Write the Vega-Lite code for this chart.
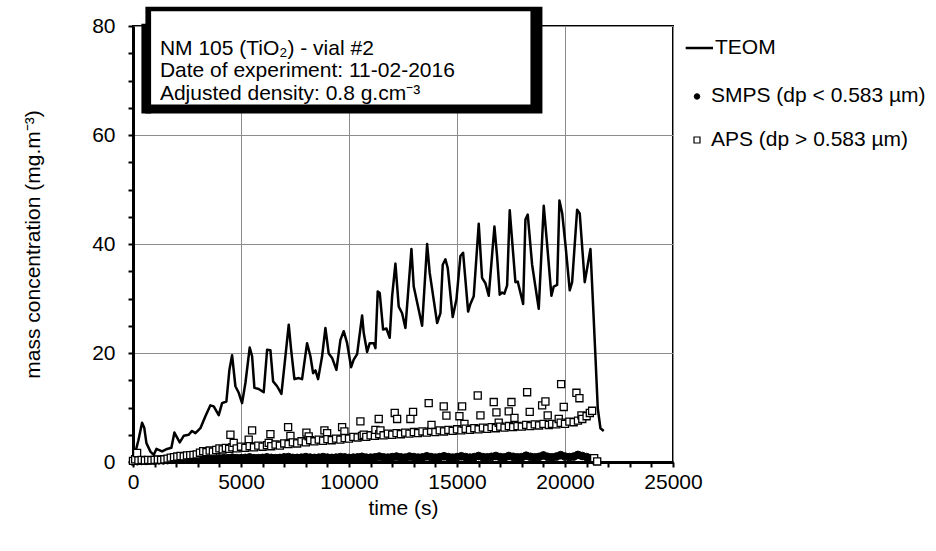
{
  "$schema": "https://vega.github.io/schema/vega-lite/v6.json",
  "autosize": {"type": "none"},
  "padding": {"left": 133, "top": 26, "right": 263, "bottom": 89},
  "width": 540,
  "height": 436,
  "background": "white",
  "config": {
    "view": {"stroke": "black", "strokeWidth": 2},
    "font": "Liberation Sans",
    "axis": {
      "labelFont": "Liberation Sans", "labelFontSize": 21, "labelColor": "black",
      "titleFont": "Liberation Sans", "titleFontSize": 21, "titleFontWeight": "normal", "titleColor": "black",
      "domainColor": "black", "domainWidth": 3, "tickColor": "black", "tickWidth": 2, "tickSize": 5,
      "gridWidth": 1, "labelOverlap": false
    }
  },
  "datasets": {
    "teom": [
      {"t":0,"c":0.1},{"t":250,"c":4.0},{"t":420,"c":7.2},{"t":520,"c":6.3},{"t":620,"c":3.5},{"t":806,"c":1.9},{"t":960,"c":1.3},{"t":1083,"c":2.4},{"t":1347,"c":1.95},{"t":1578,"c":2.4},{"t":1778,"c":2.6},{"t":1917,"c":5.4},{"t":2163,"c":3.6},{"t":2348,"c":4.8},{"t":2580,"c":5.0},{"t":2735,"c":5.7},{"t":2890,"c":5.3},{"t":3120,"c":6.2},{"t":3352,"c":8.4},{"t":3583,"c":10.4},{"t":3737,"c":10.2},{"t":3969,"c":8.6},{"t":4124,"c":10.8},{"t":4324,"c":11.1},{"t":4463,"c":16.9},{"t":4587,"c":19.6},{"t":4741,"c":13.9},{"t":4895,"c":12.7},{"t":5050,"c":10.8},{"t":5204,"c":14.5},{"t":5403,"c":21.0},{"t":5514,"c":19.4},{"t":5621,"c":13.6},{"t":5821,"c":13.4},{"t":6051,"c":12.8},{"t":6209,"c":20.6},{"t":6362,"c":20.5},{"t":6487,"c":14.8},{"t":6672,"c":13.9},{"t":6871,"c":12.5},{"t":7056,"c":19.4},{"t":7210,"c":25.2},{"t":7320,"c":20.6},{"t":7473,"c":15.2},{"t":7673,"c":15.4},{"t":7828,"c":15.2},{"t":8059,"c":21.8},{"t":8214,"c":19.4},{"t":8338,"c":16.3},{"t":8445,"c":16.8},{"t":8570,"c":15.2},{"t":8755,"c":19.4},{"t":8908,"c":24.6},{"t":9061,"c":19.9},{"t":9218,"c":19.1},{"t":9417,"c":16.9},{"t":9603,"c":22.4},{"t":9755,"c":24.0},{"t":9913,"c":21.8},{"t":10098,"c":17.4},{"t":10218,"c":18.8},{"t":10376,"c":19.8},{"t":10607,"c":26.9},{"t":10681,"c":23.7},{"t":10839,"c":20.2},{"t":10959,"c":21.8},{"t":11144,"c":21.8},{"t":11223,"c":20.9},{"t":11330,"c":31.3},{"t":11423,"c":31.0},{"t":11579,"c":24.3},{"t":11732,"c":24.5},{"t":11885,"c":22.8},{"t":11996,"c":30.4},{"t":12149,"c":36.4},{"t":12302,"c":28.5},{"t":12459,"c":27.3},{"t":12612,"c":24.6},{"t":12890,"c":39.1},{"t":12997,"c":32.2},{"t":13385,"c":25.0},{"t":13617,"c":40.0},{"t":13737,"c":34.7},{"t":14080,"c":25.5},{"t":14233,"c":27.3},{"t":14339,"c":36.2},{"t":14464,"c":37.2},{"t":14570,"c":35.6},{"t":14802,"c":26.6},{"t":14973,"c":29.8},{"t":15158,"c":37.8},{"t":15283,"c":38.4},{"t":15515,"c":27.6},{"t":15621,"c":29.0},{"t":15774,"c":30.4},{"t":16006,"c":43.7},{"t":16160,"c":33.8},{"t":16316,"c":32.8},{"t":16469,"c":30.5},{"t":16733,"c":43.2},{"t":16857,"c":37.7},{"t":16978,"c":30.7},{"t":17089,"c":31.1},{"t":17194,"c":30.9},{"t":17320,"c":32.4},{"t":17441,"c":46.2},{"t":17705,"c":33.0},{"t":17812,"c":33.1},{"t":18062,"c":29.0},{"t":18168,"c":44.5},{"t":18275,"c":45.4},{"t":18478,"c":36.2},{"t":18784,"c":28.1},{"t":19016,"c":47.0},{"t":19173,"c":39.9},{"t":19372,"c":30.5},{"t":19478,"c":32.2},{"t":19636,"c":32.5},{"t":19742,"c":48.0},{"t":19868,"c":45.7},{"t":20021,"c":39.9},{"t":20219,"c":31.5},{"t":20330,"c":33.0},{"t":20562,"c":46.3},{"t":20682,"c":45.6},{"t":20914,"c":33.0},{"t":21053,"c":36.2},{"t":21178,"c":39.1},{"t":21303,"c":28.5},{"t":21409,"c":19.4},{"t":21516,"c":9.9},{"t":21641,"c":6.2},{"t":21793,"c":5.7}
    ],
    "smps": [
      {"t":0,"c":0.1},{"t":200,"c":0.15},{"t":400,"c":0.2},{"t":600,"c":0.2},{"t":800,"c":0.25},{"t":1000,"c":0.25},{"t":1200,"c":0.3},{"t":1400,"c":0.3},{"t":1600,"c":0.35},{"t":1800,"c":0.4},{"t":2000,"c":0.45},{"t":2200,"c":0.5},{"t":2400,"c":0.5},{"t":2600,"c":0.55},{"t":2800,"c":0.55},{"t":3000,"c":0.6},{"t":3200,"c":0.6},{"t":3400,"c":0.65},{"t":3600,"c":0.6},{"t":3800,"c":0.65},{"t":4000,"c":0.65},{"t":4200,"c":0.7},{"t":4400,"c":0.7},{"t":4600,"c":0.8},{"t":4800,"c":0.7},{"t":5000,"c":0.7},{"t":5200,"c":0.75},{"t":5400,"c":0.85},{"t":5600,"c":0.7},{"t":5800,"c":0.7},{"t":6000,"c":0.75},{"t":6200,"c":0.85},{"t":6400,"c":0.75},{"t":6600,"c":0.7},{"t":6800,"c":0.75},{"t":7000,"c":0.85},{"t":7200,"c":0.9},{"t":7400,"c":0.75},{"t":7600,"c":0.75},{"t":7800,"c":0.8},{"t":8000,"c":0.9},{"t":8200,"c":0.8},{"t":8400,"c":0.75},{"t":8600,"c":0.8},{"t":8800,"c":0.9},{"t":9000,"c":0.8},{"t":9200,"c":0.75},{"t":9400,"c":0.8},{"t":9600,"c":0.9},{"t":9800,"c":0.85},{"t":10000,"c":0.75},{"t":10200,"c":0.8},{"t":10400,"c":0.85},{"t":10600,"c":0.95},{"t":10800,"c":0.8},{"t":11000,"c":0.8},{"t":11200,"c":0.85},{"t":11400,"c":1.0},{"t":11600,"c":0.85},{"t":11800,"c":0.8},{"t":12000,"c":0.9},{"t":12200,"c":1.0},{"t":12400,"c":0.85},{"t":12600,"c":0.8},{"t":12800,"c":1.0},{"t":13000,"c":0.9},{"t":13200,"c":0.8},{"t":13400,"c":0.85},{"t":13600,"c":1.05},{"t":13800,"c":0.9},{"t":14000,"c":0.8},{"t":14200,"c":0.9},{"t":14400,"c":1.05},{"t":14600,"c":0.9},{"t":14800,"c":0.8},{"t":15000,"c":0.9},{"t":15200,"c":1.05},{"t":15400,"c":0.9},{"t":15600,"c":0.8},{"t":15800,"c":0.9},{"t":16000,"c":1.1},{"t":16200,"c":0.9},{"t":16400,"c":0.85},{"t":16600,"c":0.95},{"t":16800,"c":1.1},{"t":17000,"c":0.9},{"t":17200,"c":0.85},{"t":17400,"c":1.1},{"t":17600,"c":0.95},{"t":17800,"c":0.85},{"t":18000,"c":0.9},{"t":18200,"c":1.15},{"t":18400,"c":0.95},{"t":18600,"c":0.85},{"t":18800,"c":0.95},{"t":19000,"c":1.2},{"t":19200,"c":0.95},{"t":19400,"c":0.85},{"t":19600,"c":1.0},{"t":19800,"c":1.25},{"t":20000,"c":1.0},{"t":20200,"c":0.9},{"t":20400,"c":1.0},{"t":20600,"c":1.3},{"t":20800,"c":1.1},{"t":21000,"c":0.9},{"t":21200,"c":0.7},{"t":21400,"c":0.2}
    ],
    "aps": [
      {"t":0,"c":0.2},{"t":100,"c":0.5},{"t":190,"c":1.65},{"t":250,"c":0.3},{"t":400,"c":0.4},{"t":550,"c":0.3},{"t":700,"c":0.4},{"t":850,"c":0.35},{"t":1000,"c":0.4},{"t":1150,"c":0.45},{"t":1300,"c":0.4},{"t":1450,"c":0.5},{"t":1600,"c":0.6},{"t":1750,"c":0.8},{"t":1900,"c":0.9},{"t":2050,"c":1.0},{"t":2200,"c":1.1},{"t":2350,"c":1.05},{"t":2500,"c":1.2},{"t":2650,"c":1.25},{"t":2800,"c":1.3},{"t":2950,"c":1.4},{"t":3100,"c":1.7},{"t":3250,"c":2.0},{"t":3400,"c":1.8},{"t":3550,"c":2.1},{"t":3700,"c":1.9},{"t":3850,"c":2.2},{"t":4000,"c":2.5},{"t":4150,"c":2.3},{"t":4300,"c":2.6},{"t":4450,"c":2.4},{"t":4510,"c":5.0},{"t":4600,"c":2.7},{"t":4663,"c":3.5},{"t":4800,"c":2.5},{"t":5000,"c":2.8},{"t":5200,"c":2.6},{"t":5357,"c":4.1},{"t":5400,"c":2.9},{"t":5514,"c":5.8},{"t":5600,"c":2.7},{"t":5800,"c":3.0},{"t":6000,"c":2.8},{"t":6200,"c":3.1},{"t":6283,"c":3.5},{"t":6362,"c":5.1},{"t":6400,"c":2.9},{"t":6600,"c":3.2},{"t":6800,"c":3.0},{"t":7000,"c":3.4},{"t":7181,"c":6.4},{"t":7200,"c":3.3},{"t":7288,"c":4.8},{"t":7400,"c":3.6},{"t":7600,"c":3.4},{"t":7800,"c":3.8},{"t":8000,"c":3.6},{"t":8028,"c":5.4},{"t":8135,"c":4.7},{"t":8200,"c":4.0},{"t":8400,"c":3.8},{"t":8600,"c":4.1},{"t":8800,"c":3.9},{"t":8862,"c":5.8},{"t":8987,"c":5.3},{"t":9000,"c":4.2},{"t":9200,"c":4.0},{"t":9400,"c":4.3},{"t":9600,"c":4.1},{"t":9681,"c":6.4},{"t":9788,"c":5.6},{"t":9800,"c":4.4},{"t":10000,"c":4.3},{"t":10200,"c":4.6},{"t":10400,"c":4.5},{"t":10528,"c":7.45},{"t":10600,"c":4.8},{"t":10681,"c":5.0},{"t":10800,"c":4.6},{"t":11000,"c":4.9},{"t":11200,"c":4.8},{"t":11223,"c":5.9},{"t":11376,"c":7.9},{"t":11400,"c":5.1},{"t":11455,"c":5.8},{"t":11600,"c":4.9},{"t":11800,"c":5.2},{"t":12000,"c":5.0},{"t":12117,"c":9.0},{"t":12200,"c":5.3},{"t":12228,"c":7.9},{"t":12400,"c":5.1},{"t":12600,"c":5.4},{"t":12800,"c":5.2},{"t":12843,"c":7.9},{"t":12966,"c":9.2},{"t":13000,"c":5.5},{"t":13200,"c":5.3},{"t":13400,"c":5.6},{"t":13600,"c":5.4},{"t":13690,"c":10.8},{"t":13800,"c":5.7},{"t":13820,"c":6.8},{"t":14000,"c":5.5},{"t":14200,"c":5.8},{"t":14386,"c":10.2},{"t":14400,"c":5.6},{"t":14510,"c":8.5},{"t":14600,"c":5.9},{"t":14800,"c":5.7},{"t":15000,"c":6.0},{"t":15112,"c":8.4},{"t":15200,"c":5.8},{"t":15237,"c":10.2},{"t":15344,"c":7.0},{"t":15400,"c":6.1},{"t":15600,"c":5.9},{"t":15800,"c":6.2},{"t":15960,"c":12.2},{"t":16000,"c":6.0},{"t":16085,"c":8.55},{"t":16200,"c":6.3},{"t":16400,"c":6.1},{"t":16600,"c":6.4},{"t":16701,"c":11.0},{"t":16800,"c":6.2},{"t":16826,"c":9.1},{"t":16932,"c":7.2},{"t":17000,"c":6.5},{"t":17200,"c":6.3},{"t":17395,"c":9.3},{"t":17400,"c":6.6},{"t":17520,"c":11.0},{"t":17600,"c":6.4},{"t":17659,"c":8.1},{"t":17800,"c":6.6},{"t":18000,"c":6.5},{"t":18200,"c":6.8},{"t":18247,"c":12.8},{"t":18367,"c":9.2},{"t":18400,"c":6.6},{"t":18600,"c":6.9},{"t":18800,"c":6.7},{"t":18941,"c":10.4},{"t":19000,"c":7.0},{"t":19094,"c":11.1},{"t":19200,"c":8.55},{"t":19250,"c":6.8},{"t":19400,"c":7.0},{"t":19600,"c":6.9},{"t":19710,"c":7.9},{"t":19800,"c":7.2},{"t":19821,"c":14.3},{"t":19941,"c":10.1},{"t":20000,"c":7.0},{"t":20200,"c":7.4},{"t":20400,"c":7.3},{"t":20529,"c":12.7},{"t":20600,"c":7.6},{"t":20668,"c":11.7},{"t":20761,"c":8.55},{"t":20800,"c":7.9},{"t":21000,"c":8.4},{"t":21150,"c":9.0},{"t":21256,"c":9.4},{"t":21350,"c":0.7},{"t":21490,"c":0.1}
    ]
  },
  "layer": [
    {
      "data": {"name": "teom"},
      "mark": {"type": "line", "color": "black", "strokeWidth": 2.5, "strokeJoin": "round"},
      "encoding": {
        "x": {"field": "t", "type": "quantitative",
          "scale": {"domain": [0, 25000], "nice": false, "zero": false},
          "axis": {
            "title": "time (s)", "titlePadding": 5, "format": "d", "tickCount": 40,
            "values": [0,1000,2000,3000,4000,5000,6000,7000,8000,9000,10000,11000,12000,13000,14000,15000,16000,17000,18000,19000,20000,21000,22000,23000,24000,25000],
            "labelExpr": "datum.value % 5000 === 0 ? datum.label : ''",
            "labelPadding": 4, "labelFlush": false, "labelOverlap": false, "labelBound": false,
            "grid": true,
            "gridColor": {"condition": {"test": "datum.value % 5000 !== 0 || datum.value === 0", "value": "transparent"}, "value": "#8c8c8c"}
          }},
        "y": {"field": "c", "type": "quantitative",
          "scale": {"domain": [0, 80], "nice": false},
          "axis": {
            "title": "mass concentration (mg.m⁻³)", "titlePadding": 48, "tickCount": 30,
            "values": [0,5,10,15,20,25,30,35,40,45,50,55,60,65,70,75,80],
            "labelExpr": "datum.value % 20 === 0 ? datum.label : ''",
            "labelPadding": 13, "labelFlush": false, "labelOverlap": false, "labelBound": false,
            "grid": true,
            "gridColor": {"condition": {"test": "datum.value % 20 !== 0 || datum.value === 0", "value": "transparent"}, "value": "#8c8c8c"}
          }}
      }
    },
    {
      "data": {"name": "smps"},
      "mark": {"type": "point", "shape": "circle", "filled": true, "fill": "black", "size": 60, "stroke": "black", "strokeWidth": 1, "opacity": 1},
      "encoding": {
        "x": {"field": "t", "type": "quantitative"},
        "y": {"field": "c", "type": "quantitative"}
      }
    },
    {
      "data": {"name": "aps"},
      "mark": {"type": "point", "shape": "square", "filled": true, "fill": "white", "size": 50, "stroke": "black", "strokeWidth": 1.3, "opacity": 1},
      "encoding": {
        "x": {"field": "t", "type": "quantitative"},
        "y": {"field": "c", "type": "quantitative"}
      }
    },
    {
      "data": {"values": [{}]},
      "mark": {"type": "rect", "fill": "black"},
      "encoding": {
        "x": {"datum": 574}, "x2": {"datum": 18955},
        "y": {"datum": 83.55}, "y2": {"datum": 63.94}
      }
    },
    {
      "data": {"values": [{}]},
      "mark": {"type": "rect", "fill": "black"},
      "encoding": {
        "x": {"datum": 389}, "x2": {"datum": 838},
        "y": {"datum": 80.43}, "y2": {"datum": 63.94}
      }
    },
    {
      "data": {"values": [{}]},
      "mark": {"type": "rect", "fill": "white"},
      "encoding": {
        "x": {"datum": 838}, "x2": {"datum": 18400},
        "y": {"datum": 82.69}, "y2": {"datum": 65.59}
      }
    },
    {
      "data": {"values": [{}]},
      "mark": {"type": "text", "align": "left", "baseline": "alphabetic", "fontSize": 21, "font": "Liberation Sans", "color": "black", "lineHeight": 22.5},
      "encoding": {
        "x": {"datum": 1245},
        "y": {"datum": 74.74},
        "text": {"value": ["NM 105 (TiO₂) - vial #2", "Date of experiment: 11-02-2016", "Adjusted density: 0.8 g.cm⁻³"]}
      }
    },
    {
      "data": {"values": [{}]},
      "mark": {"type": "rule", "color": "black", "strokeWidth": 2.5},
      "encoding": {
        "x": {"datum": 25587}, "x2": {"datum": 26852},
        "y": {"datum": 75.96}
      }
    },
    {
      "data": {"values": [{}]},
      "mark": {"type": "point", "shape": "circle", "filled": true, "fill": "black", "size": 30, "stroke": "black", "strokeWidth": 1, "opacity": 1},
      "encoding": {
        "x": {"datum": 26111},
        "y": {"datum": 67.07}
      }
    },
    {
      "data": {"values": [{}]},
      "mark": {"type": "point", "shape": "square", "filled": true, "fill": "white", "size": 36, "stroke": "black", "strokeWidth": 1.2, "opacity": 1},
      "encoding": {
        "x": {"datum": 26111},
        "y": {"datum": 59.08}
      }
    },
    {
      "data": {"values": [{"label": "TEOM"}]},
      "mark": {"type": "text", "align": "left", "baseline": "middle", "fontSize": 21, "font": "Liberation Sans", "color": "black"},
      "encoding": {
        "x": {"datum": 26945},
        "y": {"datum": 75.96},
        "text": {"field": "label"}
      }
    },
    {
      "data": {"values": [{"label": "SMPS (dp < 0.583 µm)"}]},
      "mark": {"type": "text", "align": "left", "baseline": "middle", "fontSize": 21, "font": "Liberation Sans", "color": "black"},
      "encoding": {
        "x": {"datum": 26759},
        "y": {"datum": 67.07},
        "text": {"field": "label"}
      }
    },
    {
      "data": {"values": [{"label": "APS (dp > 0.583 µm)"}]},
      "mark": {"type": "text", "align": "left", "baseline": "middle", "fontSize": 21, "font": "Liberation Sans", "color": "black"},
      "encoding": {
        "x": {"datum": 26759},
        "y": {"datum": 59.08},
        "text": {"field": "label"}
      }
    }
  ]
}
